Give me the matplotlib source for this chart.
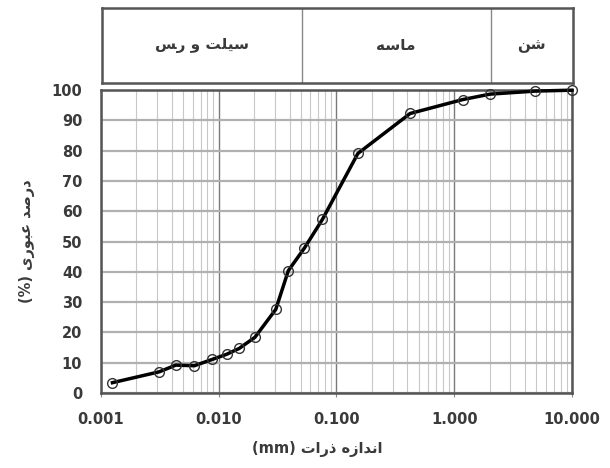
import matplotlib
matplotlib.use("Agg")
import numpy as np
import matplotlib.pyplot as plt
from matplotlib.ticker import FixedLocator, FixedFormatter, NullFormatter, LogLocator

# grain size distribution
size_mm = [0.00125, 0.00313, 0.00431, 0.00621, 0.00883, 0.0117, 0.0149,
           0.0203, 0.0305, 0.0390, 0.0533, 0.0759, 0.152, 0.422, 1.18,
           2.02, 4.87, 10.0]
passing = [3.4, 7.0, 9.2, 9.0, 11.1, 12.8, 14.7, 18.4, 27.6, 40.4, 47.8,
           57.3, 79.1, 92.3, 96.9, 98.7, 99.7, 100.0]

x_ticks = [0.001, 0.01, 0.1, 1, 10]
x_ticklabels = ["0.001", "0.010", "0.100", "1.000", "10.000"]
y_ticks = list(range(0, 101, 10))

# soil classes on the top strip: (left edge, right edge, label)
# persian text is pre-shaped (presentation forms) and in visual order
zone_edges = [0.001, 0.05, 2.0, 10.0]
zone_names = ["\ufeb2\ufead \ufeed \ufe96\ufee0\ufef4\ufeb3",   # silt and clay
              "\ufeea\ufeb3\ufe8e\ufee3",                       # sand
              "\ufee6\ufeb7"]                                   # gravel
y_title = "(%) \ufeef\ufead\ufeee\ufe92\ufecb \ufeaa\ufebb\ufead\ufea9"
x_title = "(mm) \ufe95\ufe8d\ufead\ufeab \ufee9\ufeaf\ufe8d\ufeaa\ufee7\ufe8d"

txt_col = "#3a3a3a"

fig = plt.figure(figsize=(6.1, 4.68), dpi=100)

ax = fig.add_axes([0.1656, 0.1603, 0.772, 0.647])
ax.plot(size_mm, passing, color="black", lw=2.5, marker="o", ms=7,
        mfc="none", mec="#333333", mew=1.0, clip_on=False, zorder=5)

ax.set_xscale("log")
ax.set_xlim(0.001, 10)
ax.set_ylim(0, 100)

ax.xaxis.set_major_locator(FixedLocator(x_ticks))
ax.xaxis.set_major_formatter(FixedFormatter(x_ticklabels))
ax.xaxis.set_minor_locator(LogLocator(base=10, subs=np.arange(2, 10)))
ax.xaxis.set_minor_formatter(NullFormatter())
ax.set_yticks(y_ticks)

ax.grid(which="major", axis="x", color="#7a7a7a", lw=1.0)
ax.grid(which="minor", axis="x", color="#c8c8c8", lw=0.8)
ax.grid(which="major", axis="y", color="#b0b0b0", lw=1.6)
ax.set_axisbelow(True)

ax.tick_params(axis="x", which="major", length=3, width=0.8, color="#888888",
               pad=10.5, labelsize=10.5, labelcolor=txt_col)
ax.tick_params(axis="x", which="minor", length=0)
ax.tick_params(axis="y", length=0, pad=13.5, labelsize=10.5, labelcolor=txt_col)
for lab in ax.get_xticklabels() + ax.get_yticklabels():
    lab.set_fontweight("bold")

for sp in ax.spines.values():
    sp.set_color("#555555")
    sp.set_linewidth(1.8)

ax.set_ylabel(y_title, fontweight="bold", fontsize=10.5,
              color=txt_col, labelpad=12)
ax.set_xlabel(x_title, fontweight="bold", fontsize=10.5, color=txt_col)
ax.xaxis.set_label_coords(0.459, -0.160)

# class strip above the chart
bx = fig.add_axes([0.1667, 0.8226, 0.7726, 0.160])
bx.set_xscale("log")
bx.set_xlim(0.001, 10)
bx.set_ylim(0, 1)
bx.set_xticks([])
bx.set_yticks([])
bx.minorticks_off()
for sp in bx.spines.values():
    sp.set_color("#555555")
    sp.set_linewidth(1.8)
for edge in zone_edges[1:-1]:
    bx.axvline(edge, color="#888888", lw=1.0)
for lo, hi, name in zip(zone_edges[:-1], zone_edges[1:], zone_names):
    bx.text(np.sqrt(lo * hi), 0.5, name, ha="center", va="center",
            fontsize=11, fontweight="bold", color=txt_col)

fig.savefig("out.png", dpi=100)
